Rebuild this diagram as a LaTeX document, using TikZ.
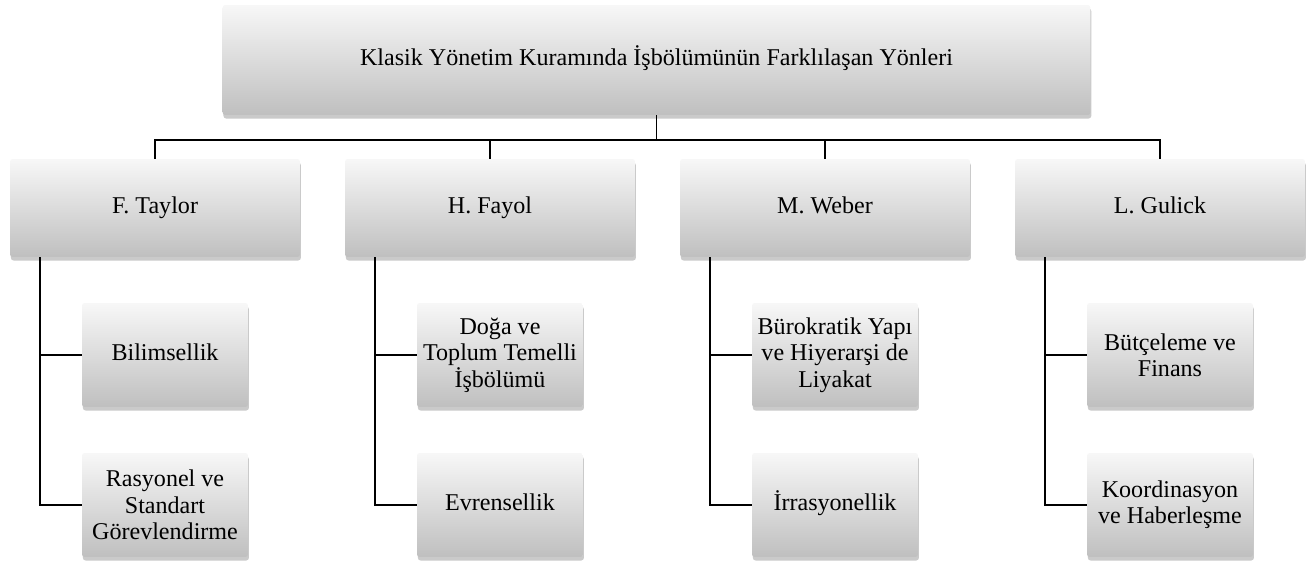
\documentclass[tikz,border=0pt]{standalone}
\usepackage{fontspec}
\setmainfont{Liberation Serif}
\usetikzlibrary{shadows}
\tikzset{
  box/.style = {
    rounded corners=1.5pt,
    top color=white!97!black, bottom color=white!75!black,
    drop shadow={shadow xshift=0.5pt, shadow yshift=-2pt, opacity=0.35, fill=black!60},
    align=center, inner sep=0pt,
    font=\fontsize{13.7}{15}\selectfont
  },
  oneline/.style = {text height=0.9em, text depth=0.24em},
  headbox/.style = {box, oneline, minimum width=17.36cm, minimum height=2.2cm},
  namebox/.style = {box, oneline, minimum width=5.8cm, minimum height=1.96cm},
  itembox/.style = {box, minimum width=3.32cm, minimum height=2.08cm},
  conn/.style = {line width=1.1pt}
}

\begin{document}
\begin{tikzpicture}[x=0.02cm,y=-0.02cm]
  \useasboundingbox (0,0) rectangle (1308,565);
  \node[headbox] (top) at (656.5,60) {Klasik Yönetim Kuramında İşbölümünün Farklılaşan Yönleri};
  % second level
  \node[namebox] (taylor) at (155,208) {F. Taylor};
  \node[namebox] (fayol) at (490,208) {H. Fayol};
  \node[namebox] (weber) at (825,208) {M. Weber};
  \node[namebox] (gulick) at (1160,208) {L. Gulick};
  % items
  \node[itembox, oneline] (bilim) at (165,355) {Bilimsellik};
  \node[itembox] (rasyonel) at (165,505) {Rasyonel ve\\Standart\\Görevlendirme};
  \node[itembox] (doga) at (500,355) {Doğa ve\\Toplum Temelli\\İşbölümü};
  \node[itembox, oneline] (evren) at (500,505) {Evrensellik};
  \node[itembox] (buro) at (835,355) {Bürokratik Yapı\\ve Hiyerarşi de\\Liyakat};
  \node[itembox, oneline] (irras) at (835,505) {İrrasyonellik};
  \node[itembox] (butce) at (1170,355) {Bütçeleme ve\\Finans};
  \node[itembox] (koord) at (1170,505) {Koordinasyon\\ve Haberleşme};
  % connectors
  \coordinate (bus) at (656.5,140);
  \draw[conn] (top.south) -- (top.south |- bus);
  \draw[conn] (taylor.north) -- (taylor.north |- bus) -- (gulick.north |- bus) -- (gulick.north);
  \draw[conn] (fayol.north) -- (fayol.north |- bus);
  \draw[conn] (weber.north) -- (weber.north |- bus);
  \foreach \p/\a/\b in {taylor/bilim/rasyonel, fayol/doga/evren, weber/buro/irras, gulick/butce/koord} {
    \draw[conn] ([xshift=0.6cm]\p.south west) |- (\b.west);
    \draw[conn] (\a.west) -- ++(-42,0);
  }
\end{tikzpicture}
\end{document}
